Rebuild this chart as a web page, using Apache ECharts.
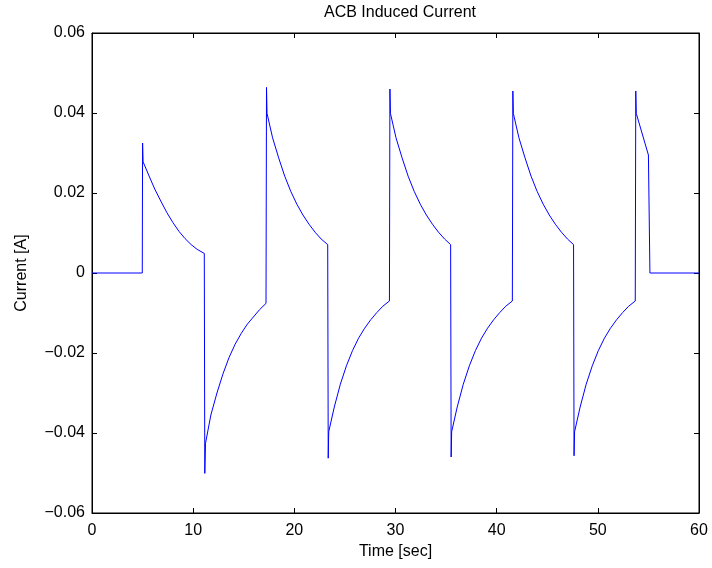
<!DOCTYPE html>
<html>
<head>
<meta charset="utf-8">
<script src="https://cdn.jsdelivr.net/npm/echarts@6/dist/echarts.min.js"></script>
<style>html,body{margin:0;padding:0;background:#fff}#c{width:712px;height:568px}</style>
</head>
<body>
<div id="c"></div>
<script>
var titleText = 'ACB Induced Current';
var xName = 'Time [sec]';
var yName = 'Current [A]';
var xTicks = [0, 10, 20, 30, 40, 50, 60];
var yTicks = [-0.06, -0.04, -0.02, 0, 0.02, 0.04, 0.06];
var yTickLabels = ['\u22120.06', '\u22120.04', '\u22120.02', '0', '0.02', '0.04', '0.06'];

var time = [
  0, 4.97, 5.0, 5.05,
  5.6, 6.2, 6.8, 7.4, 8.0, 8.6, 9.2, 9.8, 10.4, 11.1,
  11.15, 11.22,
  11.75, 12.35, 12.95, 13.55, 14.15, 14.75, 15.35, 15.95, 16.55, 17.2,
  17.25, 17.3,
  17.85, 18.45, 19.05, 19.65, 20.25, 20.85, 21.45, 22.05, 22.65, 23.3,
  23.35, 23.4,
  23.95, 24.55, 25.15, 25.75, 26.35, 26.95, 27.55, 28.15, 28.75, 29.4,
  29.45, 29.5,
  30.05, 30.65, 31.25, 31.85, 32.45, 33.05, 33.65, 34.25, 34.85, 35.45,
  35.5, 35.55,
  36.1, 36.7, 37.3, 37.9, 38.5, 39.1, 39.7, 40.3, 40.9, 41.55,
  41.6, 41.65,
  42.2, 42.8, 43.4, 44.0, 44.6, 45.2, 45.8, 46.4, 47.0, 47.6,
  47.65, 47.7,
  48.25, 48.85, 49.45, 50.05, 50.65, 51.25, 51.85, 52.45, 53.05, 53.7,
  53.75, 53.8,
  55.0, 55.15, 60
];
var current = [
  0, 0, 0.0325, 0.0278,
  0.0245, 0.0210, 0.0180, 0.0151, 0.0126, 0.0104, 0.0086, 0.0071, 0.0059, 0.0049,
  -0.0501, -0.0426,
  -0.0355, -0.0300, -0.0252, -0.0211, -0.0178, -0.0151, -0.0128, -0.0110, -0.0092, -0.0076,
  0.0464, 0.0399,
  0.0338, 0.0288, 0.0242, 0.0204, 0.0172, 0.0145, 0.0122, 0.0102, 0.0085, 0.0071,
  -0.0463, -0.0397,
  -0.0335, -0.0278, -0.0232, -0.0194, -0.0163, -0.0138, -0.0117, -0.0099, -0.0083, -0.0070,
  0.0460, 0.0399,
  0.0338, 0.0288, 0.0242, 0.0204, 0.0172, 0.0145, 0.0122, 0.0102, 0.0085, 0.0071,
  -0.0460, -0.0397,
  -0.0335, -0.0278, -0.0232, -0.0194, -0.0163, -0.0138, -0.0117, -0.0099, -0.0083, -0.0070,
  0.0455, 0.0399,
  0.0338, 0.0288, 0.0242, 0.0204, 0.0172, 0.0145, 0.0122, 0.0102, 0.0085, 0.0071,
  -0.0457, -0.0397,
  -0.0335, -0.0278, -0.0232, -0.0194, -0.0163, -0.0138, -0.0117, -0.0099, -0.0083, -0.0070,
  0.0455, 0.0399,
  0.0295, 0, 0
];

var pts = time.map(function (t, i) { return [t, current[i]]; });
var FONT = 'Liberation Sans, Arial, Helvetica, sans-serif';
var FS = 16;

function yLabel(v) {
  for (var i = 0; i < yTicks.length; i++) {
    if (Math.abs(yTicks[i] - v) < 1e-9) return yTickLabels[i];
  }
  return '';
}

var chart = echarts.init(document.getElementById('c'), null, {renderer: 'canvas'});
chart.setOption({
  animation: false,
  backgroundColor: '#ffffff',
  title: {
    text: titleText,
    left: 395, top: 0, textAlign: 'center',
    textStyle: {fontFamily: FONT, fontSize: 16, fontWeight: 'normal', color: '#000'}
  },
  grid: {left: 92, right: 13, top: 33, bottom: 55, show: true, borderColor: '#000', borderWidth: 1, backgroundColor: '#fff'},
  xAxis: [{
    type: 'value', min: 0, max: 60, interval: 10,
    name: xName, nameLocation: 'middle', nameGap: 29,
    nameTextStyle: {fontFamily: FONT, fontSize: FS, color: '#000'},
    axisLine: {show: true, onZero: false, lineStyle: {color: '#000', width: 1}},
    axisTick: {show: true, inside: true, length: 5, lineStyle: {color: '#000'}},
    axisLabel: {fontFamily: FONT, fontSize: FS, color: '#000', margin: 10},
    splitLine: {show: false}
  }, {
    type: 'value', min: 0, max: 60, interval: 10, position: 'top',
    axisLine: {show: true, onZero: false, lineStyle: {color: '#000', width: 1}},
    axisTick: {show: true, inside: true, length: 5, lineStyle: {color: '#000'}},
    axisLabel: {show: false}, splitLine: {show: false}
  }],
  yAxis: [{
    type: 'value', min: -0.06, max: 0.06, interval: 0.02,
    name: yName, nameLocation: 'middle', nameGap: 62, nameRotate: 90,
    nameTextStyle: {fontFamily: FONT, fontSize: FS, color: '#000'},
    axisLine: {show: true, onZero: false, lineStyle: {color: '#000', width: 1}},
    axisTick: {show: true, inside: true, length: 5, lineStyle: {color: '#000'}},
    axisLabel: {fontFamily: FONT, fontSize: FS, color: '#000', margin: 7, formatter: yLabel},
    splitLine: {show: false}
  }, {
    type: 'value', min: -0.06, max: 0.06, interval: 0.02, position: 'right',
    axisLine: {show: true, onZero: false, lineStyle: {color: '#000', width: 1}},
    axisTick: {show: true, inside: true, length: 5, lineStyle: {color: '#000'}},
    axisLabel: {show: false}, splitLine: {show: false}
  }],
  series: [{
    type: 'line', data: pts, showSymbol: false, symbol: 'none',
    lineStyle: {color: '#0000ff', width: 1}, itemStyle: {color: '#0000ff'},
    xAxisIndex: 0, yAxisIndex: 0
  }]
});
</script>
</body>
</html>
